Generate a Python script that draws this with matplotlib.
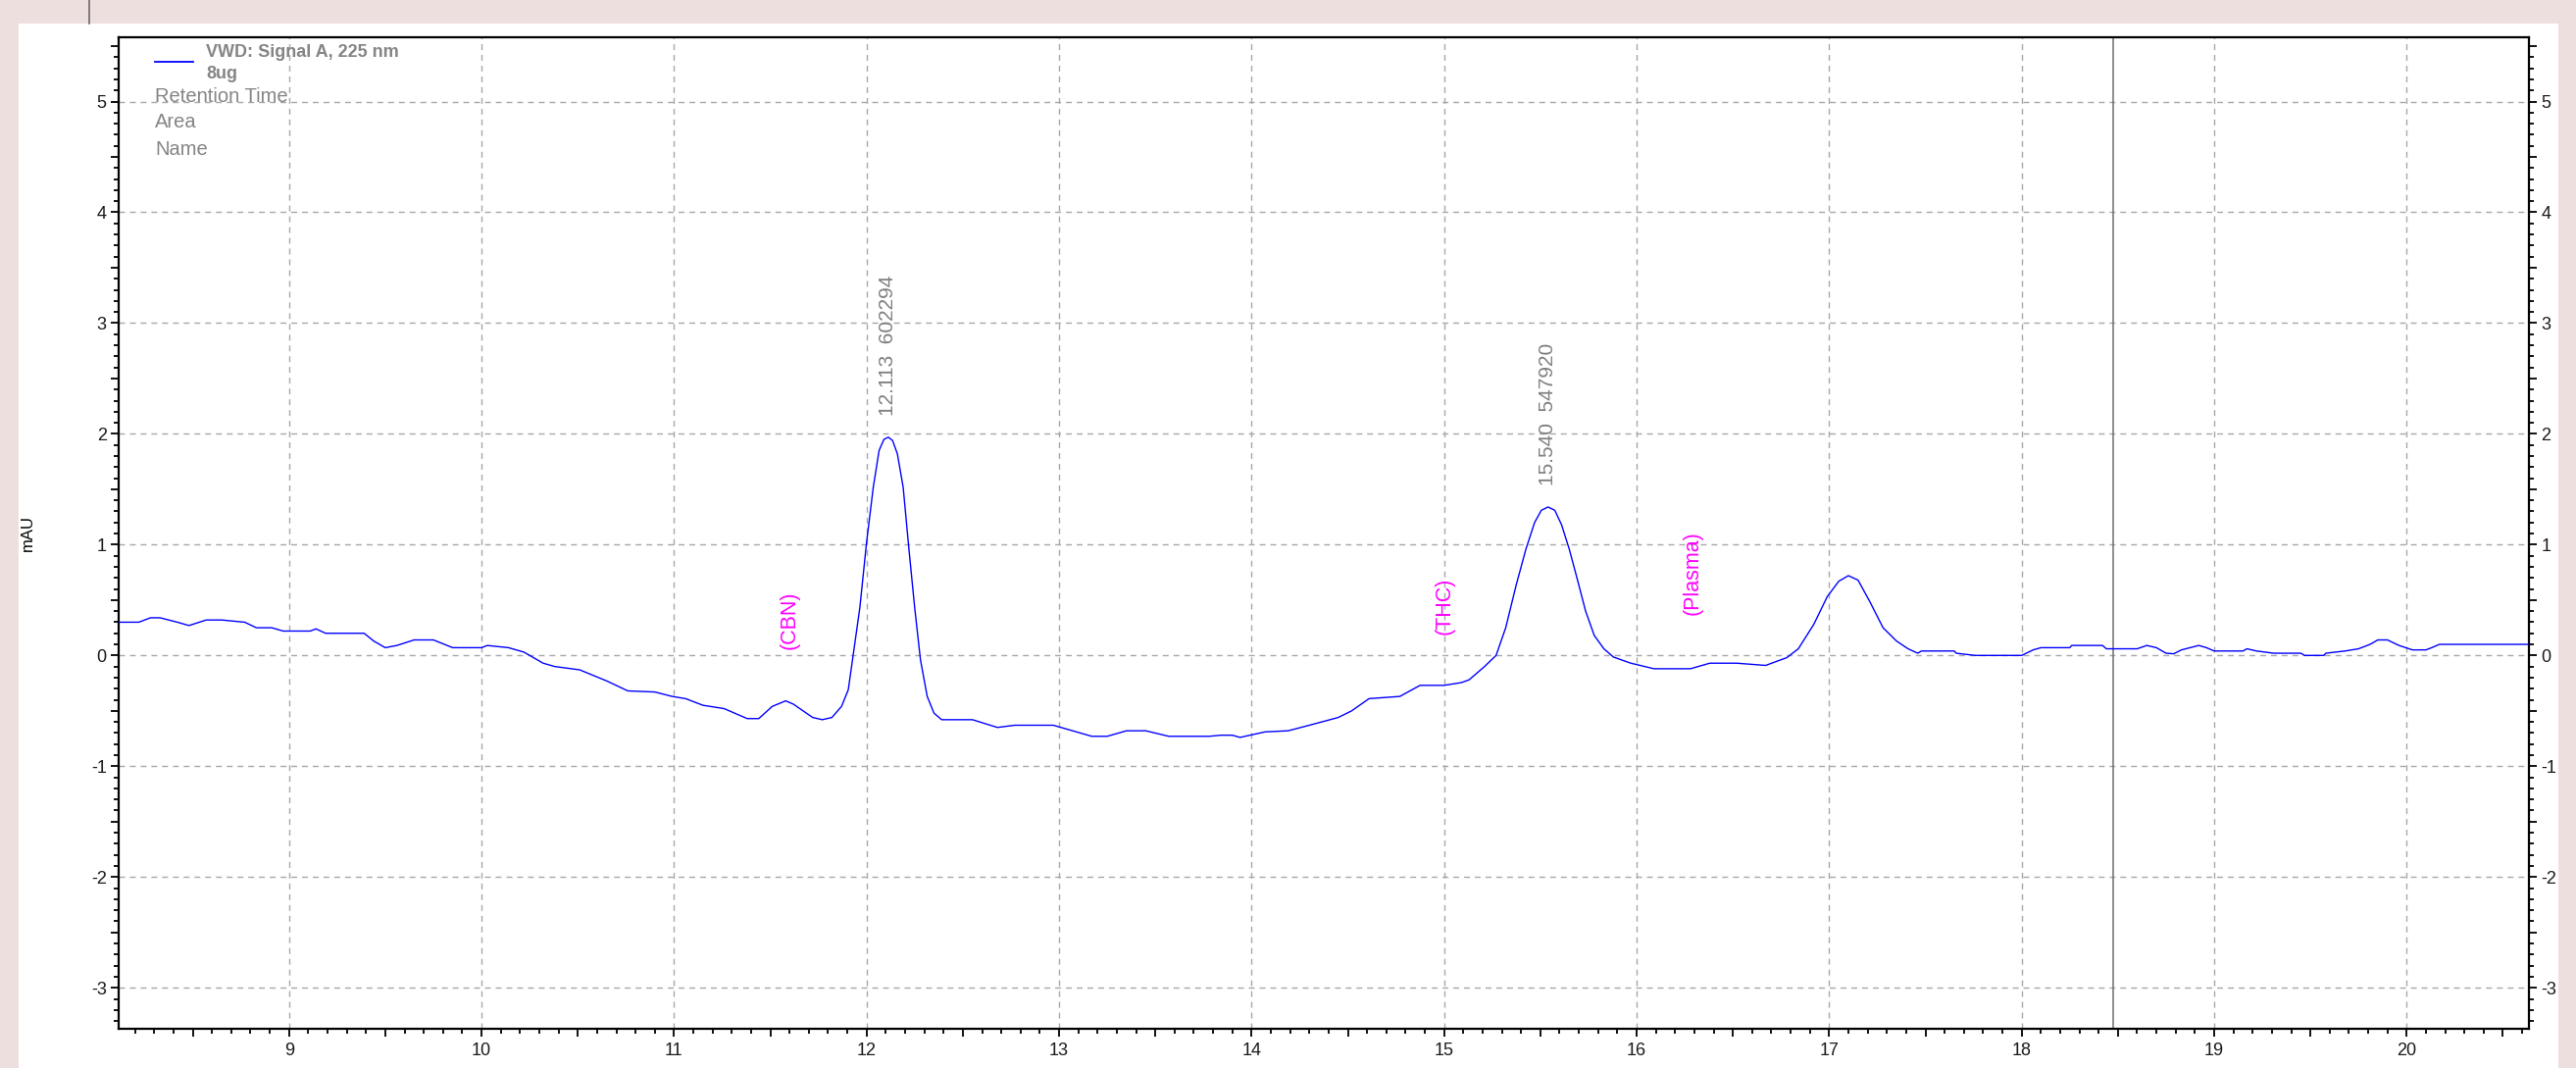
import matplotlib
matplotlib.use("Agg")
import matplotlib.pyplot as plt
import matplotlib.patches as mpatches
from matplotlib.lines import Line2D
from matplotlib.ticker import MultipleLocator, FuncFormatter
import numpy as np

plt.rcParams["font.family"] = ["Liberation Sans", "DejaVu Sans"]

W, H = 2627, 1089

# chromatogram trace (retention time [min], signal [mAU])
rt = [8.115, 8.22, 8.28, 8.33, 8.42, 8.48, 8.57, 8.65, 8.77, 8.83, 8.91, 8.97,
      9.11, 9.14, 9.19, 9.39, 9.44, 9.50, 9.56, 9.65, 9.75, 9.85, 10.00, 10.03,
      10.14, 10.22, 10.32, 10.38, 10.51, 10.65, 10.76, 10.90, 10.99, 11.06, 11.15,
      11.26, 11.38, 11.44, 11.51, 11.58, 11.62, 11.72, 11.77, 11.82, 11.87, 11.905,
      11.93, 11.965, 12.0, 12.035, 12.065, 12.09, 12.113, 12.135, 12.16, 12.19,
      12.22, 12.25, 12.28, 12.315, 12.35, 12.39, 12.55, 12.68, 12.77, 12.97, 13.07,
      13.17, 13.25, 13.35, 13.45, 13.57, 13.78, 13.84, 13.90, 13.94, 14.07, 14.19,
      14.30, 14.45, 14.52, 14.61, 14.77, 14.875, 15.00, 15.09, 15.13, 15.21, 15.27,
      15.32, 15.375, 15.425, 15.47, 15.505, 15.54, 15.575, 15.61, 15.65, 15.69,
      15.735, 15.78, 15.83, 15.88, 15.97, 16.09, 16.28, 16.38, 16.52, 16.67, 16.78,
      16.84, 16.92, 16.99, 17.05, 17.10, 17.15, 17.21, 17.28, 17.35, 17.41, 17.46,
      17.48, 17.65, 17.66, 17.76, 18.00, 18.06, 18.10, 18.25, 18.26, 18.42, 18.44,
      18.60, 18.65, 18.70, 18.75, 18.79, 18.83, 18.92, 18.96, 19.00, 19.15, 19.17,
      19.22, 19.31, 19.45, 19.47, 19.57, 19.58, 19.68, 19.75, 19.81, 19.85, 19.90,
      19.96, 20.03, 20.10, 20.13, 20.17, 20.63]
mau = [0.30, 0.30, 0.34, 0.34, 0.30, 0.27, 0.32, 0.32, 0.30, 0.25, 0.25, 0.22,
       0.22, 0.24, 0.20, 0.20, 0.13, 0.07, 0.09, 0.14, 0.14, 0.07, 0.07, 0.09,
       0.07, 0.03, -0.07, -0.10, -0.13, -0.23, -0.32, -0.33, -0.37, -0.39, -0.45,
       -0.48, -0.57, -0.57, -0.46, -0.41, -0.44, -0.56, -0.58, -0.56, -0.46, -0.31,
       0.0, 0.43, 1.02, 1.52, 1.85, 1.95, 1.97, 1.94, 1.82, 1.52,
       0.96, 0.43, -0.04, -0.37, -0.52, -0.58, -0.58, -0.65, -0.63, -0.63, -0.68,
       -0.73, -0.73, -0.68, -0.68, -0.73, -0.73, -0.72, -0.72, -0.74, -0.69, -0.68,
       -0.63, -0.56, -0.50, -0.39, -0.37, -0.27, -0.27, -0.245, -0.22, -0.10, 0.0,
       0.25, 0.64, 0.96, 1.20, 1.31, 1.34, 1.31, 1.18, 0.96, 0.70,
       0.40, 0.18, 0.06, -0.015, -0.07, -0.12, -0.12, -0.07, -0.07, -0.09, -0.02,
       0.06, 0.28, 0.53, 0.67, 0.72, 0.68, 0.49, 0.25, 0.13, 0.06, 0.02,
       0.04, 0.04, 0.02, 0.0, 0.0, 0.05, 0.07, 0.07, 0.09, 0.09, 0.06,
       0.06, 0.09, 0.07, 0.02, 0.015, 0.05, 0.09, 0.07, 0.04, 0.04, 0.06,
       0.04, 0.02, 0.02, 0.0, 0.0, 0.02, 0.04, 0.06, 0.10, 0.14, 0.14,
       0.09, 0.05, 0.05, 0.07, 0.10, 0.10]

# integrated peaks
peak_rt = [12.113, 15.540]
peak_area = [602294, 547920]
peak_top = [1.97, 1.34]

# expected compound windows (labels)
name_labels = ["(CBN)", "(THC)", "(Plasma)"]
name_rt = [11.60, 15.00, 16.29]
name_base = [0.06, 0.19, 0.37]

cursor_rt = 18.476

x_range = (8.115, 20.635)
y_range = (-3.37, 5.58)


def px(x, y):
    """画像ピクセル座標 → figure 座標"""
    return x / W, 1 - y / H


fig = plt.figure(figsize=(W / 100, H / 100), dpi=100, facecolor="#EEDFDF")

# 白いパネルと上部の区切り線
x0, y0 = px(19, 1089)
x1, y1 = px(2609, 24)
fig.add_artist(mpatches.Rectangle((x0, y0), x1 - x0, y1 - y0,
                                  transform=fig.transFigure,
                                  facecolor="white", edgecolor="none", zorder=0))
fig.add_artist(Line2D([91 / W, 91 / W], [1 - 24 / H, 1], transform=fig.transFigure,
                      color="#6a6a6a", lw=1.2))

l, t = px(121, 38)
r, b = px(2579, 1049)
ax = fig.add_axes([l, b, r - l, t - b])
ax.set_xlim(*x_range)
ax.set_ylim(*y_range)

# グリッド (整数位置のみ)
grid_kw = dict(color="#a8a8a8", lw=1.0, ls=(0, (4.3, 3.6)), zorder=1)
for v in np.arange(np.ceil(x_range[0]), x_range[1]):
    ax.axvline(v, **grid_kw)
for v in np.arange(np.ceil(y_range[0]), y_range[1]):
    ax.axhline(v, **grid_kw)

ax.axvline(cursor_rt, color="#707070", lw=1.1, zorder=2)

ax.plot(rt, mau, color="#0000ff", lw=1.0, zorder=3)

for s in ax.spines.values():
    s.set_linewidth(1.6)
    s.set_color("black")

int_fmt = FuncFormatter(lambda v, p: f"{int(round(v))}" if abs(v - round(v)) < 1e-6 else "")
for axis in (ax.xaxis, ax.yaxis):
    axis.set_major_locator(MultipleLocator(0.5))
    axis.set_minor_locator(MultipleLocator(0.1))
    axis.set_major_formatter(int_fmt)

ax.tick_params(which="both", direction="out", color="black", width=1.3)
ax.tick_params(which="major", length=5.8, labelsize=13, labelcolor="#1a1a1a")
ax.tick_params(which="minor", length=3.4)
ax.tick_params(axis="x", which="major", pad=4)
ax.tick_params(axis="y", which="major", pad=3)
ax.tick_params(axis="y", which="both", left=True, right=True, labelleft=True, labelright=True)
ax.tick_params(axis="x", which="both", top=False, bottom=True)

# ピークラベル
for x, a, h in zip(peak_rt, peak_area, peak_top):
    ax.text(x, h + 0.19, f"{x:.3f}  {a}", rotation=90, ha="center", va="bottom",
            fontsize=15, color="#7f7f7f", zorder=4)

for name, x, yb in zip(name_labels, name_rt, name_base):
    ax.text(x, yb, name, rotation=90, ha="center", va="bottom",
            fontsize=15.5, color="#ff00ff", zorder=4)

# 凡例
fig.add_artist(Line2D([158 / W, 197 / W], [1 - 63 / H] * 2, transform=fig.transFigure,
                      color="#0000ff", lw=1.3))
fig.text(*px(210, 53), "VWD: Signal A, 225 nm", fontsize=13, fontweight="bold",
         color="#858585", va="center", ha="left")
fig.text(*px(210, 75), "8ug", fontsize=13, fontweight="bold",
         color="#858585", va="center", ha="left")
for label, yy in zip(["Retention Time", "Area", "Name"], [98, 125, 152]):
    fig.text(*px(158, yy), label, fontsize=14.5, color="#858585", va="center", ha="left")

fig.text(*px(28, 543), "mAU", rotation=90, fontsize=12, color="black",
         va="center", ha="center")

fig.savefig("out.png", dpi=100, facecolor=fig.get_facecolor())
